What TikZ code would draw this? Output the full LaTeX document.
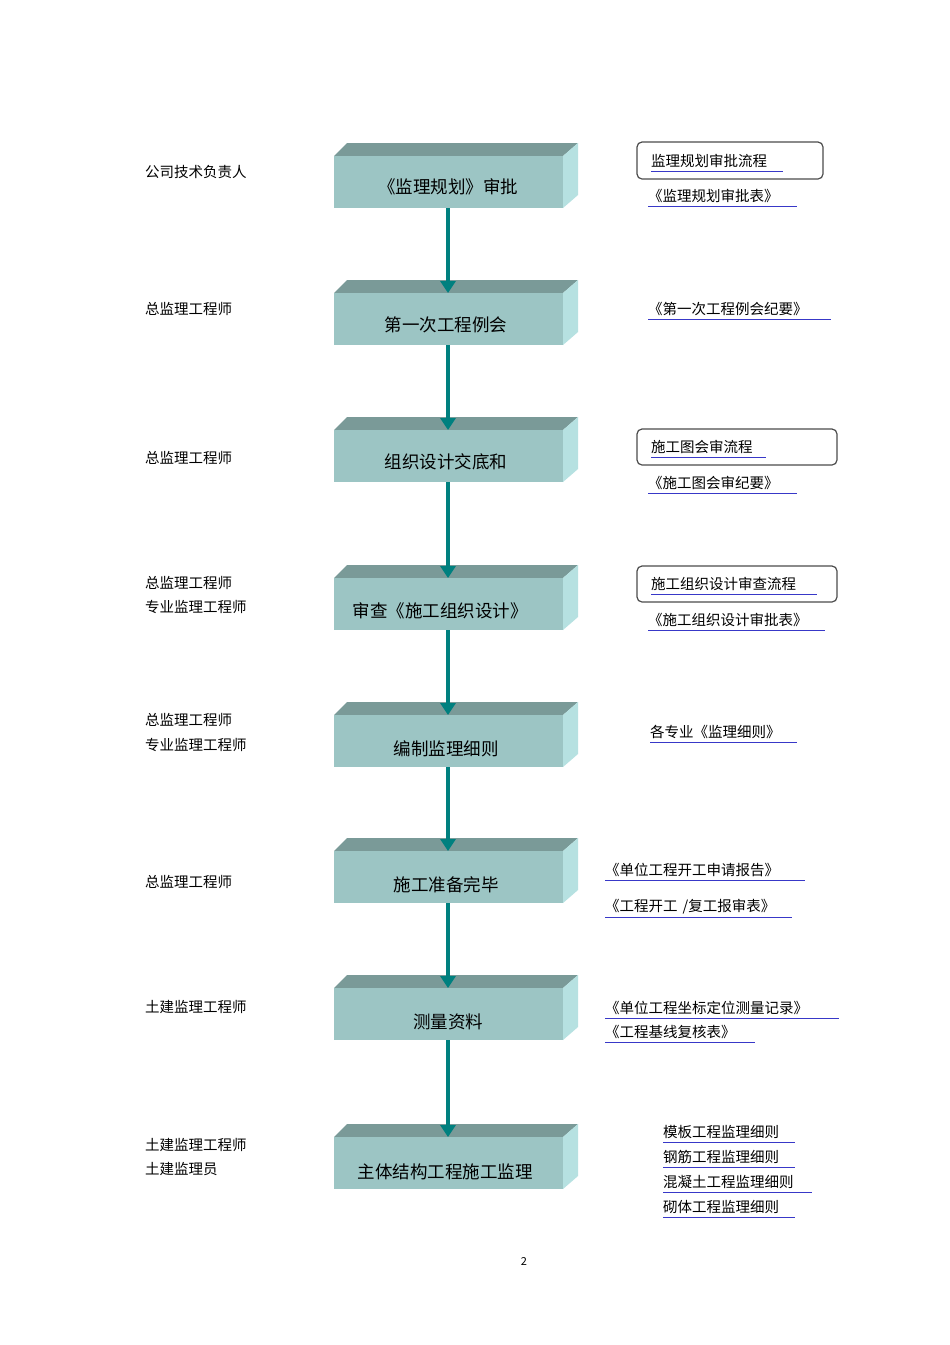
\documentclass[tikz,border=0pt]{standalone}
\usepackage{fontspec}
\setmainfont{Noto Sans CJK SC}
\usetikzlibrary{arrows.meta}
\definecolor{ftop}{HTML}{7A9A98}
\definecolor{ffront}{HTML}{9CC5C4}
\definecolor{fside}{HTML}{B6E1E1}
\definecolor{arr}{HTML}{00807F}
\definecolor{ul}{HTML}{3838C8}
\tikzset{
  lbl/.style={anchor=west,inner sep=0,font=\fontsize{14.5}{14.5}\selectfont},
  rtx/.style={anchor=west,inner sep=0,font=\fontsize{14.5}{14.5}\selectfont},
  btx/.style={inner sep=0,font=\fontsize{17.5}{17.5}\selectfont},
  frame/.style={draw=black!70,line width=1.2pt,rounded corners=5pt},
  uline/.style={draw=ul,line width=0.9pt},
  flow/.style={draw=arr,line width=4pt,-{Triangle[length=12pt,width=15pt]}}
}
\newcommand{\cbox}[2]{% name, top y
  \fill[ftop] (334,-#2-13) -- (347,-#2) -- (578,-#2) -- (563,-#2-13) -- cycle;
  \fill[fside] (563,-#2-13) -- (578,-#2) -- (578,-#2-52) -- (563,-#2-65) -- cycle;
  \fill[ffront] (334,-#2-13) rectangle (563,-#2-65);
  \coordinate (#1top) at (448,-#2-13);
  \coordinate (#1bot) at (448,-#2-65);
}
\begin{document}
\begin{tikzpicture}[x=1pt,y=1pt]
\useasboundingbox (0,0) rectangle (950,-1345);
\fill[white] (0,0) rectangle (950,-1345);
\cbox{b1}{143}
\cbox{b2}{280}
\cbox{b3}{417}
\cbox{b4}{565}
\cbox{b5}{702}
\cbox{b6}{838}
\cbox{b7}{975}
\cbox{b8}{1124}
\node[btx] (t1) at (448,-187) {《监理规划》审批};
\node[btx] (t2) at (446,-325) {第一次工程例会};
\node[btx] (t3) at (446,-462) {组织设计交底和};
\node[btx] (t4) at (440,-611) {审查《施工组织设计》};
\node[btx] (t5) at (446,-749) {编制监理细则};
\node[btx] (t6) at (446,-885) {施工准备完毕};
\node[btx] (t7) at (448,-1022) {测量资料};
\node[btx] (t8) at (445,-1172) {主体结构工程施工监理};
\draw[flow] (b1bot) -- (b2top);
\draw[flow] (b2bot) -- (b3top);
\draw[flow] (b3bot) -- (b4top);
\draw[flow] (b4bot) -- (b5top);
\draw[flow] (b5bot) -- (b6top);
\draw[flow] (b6bot) -- (b7top);
\draw[flow] (b7bot) -- (b8top);
% left labels
\node[lbl] (l1) at (145,-172) {公司技术负责人};
\node[lbl] (l2) at (145,-309) {总监理工程师};
\node[lbl] (l3) at (145,-458) {总监理工程师};
\node[lbl] (l4a) at (145,-583) {总监理工程师};
\node[lbl] (l4b) at (145,-607) {专业监理工程师};
\node[lbl] (l5a) at (145,-720) {总监理工程师};
\node[lbl] (l5b) at (145,-745) {专业监理工程师};
\node[lbl] (l6) at (145,-882) {总监理工程师};
\node[lbl] (l7) at (145,-1007) {土建监理工程师};
\node[lbl] (l8a) at (145,-1145) {土建监理工程师};
\node[lbl] (l8b) at (145,-1169) {土建监理员};
% right side
\draw[frame] (637,-142) rectangle (823,-179);
\draw[frame] (637,-429) rectangle (837,-465);
\draw[frame] (637,-566) rectangle (837,-602);
\newcommand{\rt}[5]{\node[rtx] (#1) at (#2,-#3) {#5}; \draw[uline] (#2,-#3-10) -- (#4,-#3-10);}
\rt{r1a}{651}{161}{783}{监理规划审批流程}
\rt{r1b}{648}{196}{797}{《监理规划审批表》}
\rt{r2}{648}{309}{831}{《第一次工程例会纪要》}
\rt{r3a}{651}{447}{766}{施工图会审流程}
\rt{r3b}{648}{483}{797}{《施工图会审纪要》}
\rt{r4a}{651}{584}{817}{施工组织设计审查流程}
\rt{r4b}{648}{620}{825}{《施工组织设计审批表》}
\rt{r5}{650}{732}{797}{各专业《监理细则》}
\rt{r6a}{605}{870}{805}{《单位工程开工申请报告》}
\rt{r6b}{605}{907}{792}{《工程开工\hspace{5pt}/复工报审表》}
\rt{r7a}{605}{1008}{839}{《单位工程坐标定位测量记录》}
\rt{r7b}{605}{1032}{755}{《工程基线复核表》}
\rt{r8a}{663}{1132}{795}{模板工程监理细则}
\rt{r8b}{663}{1157}{795}{钢筋工程监理细则}
\rt{r8c}{663}{1182}{812}{混凝土工程监理细则}
\rt{r8d}{663}{1207}{795}{砌体工程监理细则}
\node[inner sep=0,font=\fontsize{11}{11}\selectfont] (pg) at (524,-1261) {2};
\end{tikzpicture}
\end{document}
